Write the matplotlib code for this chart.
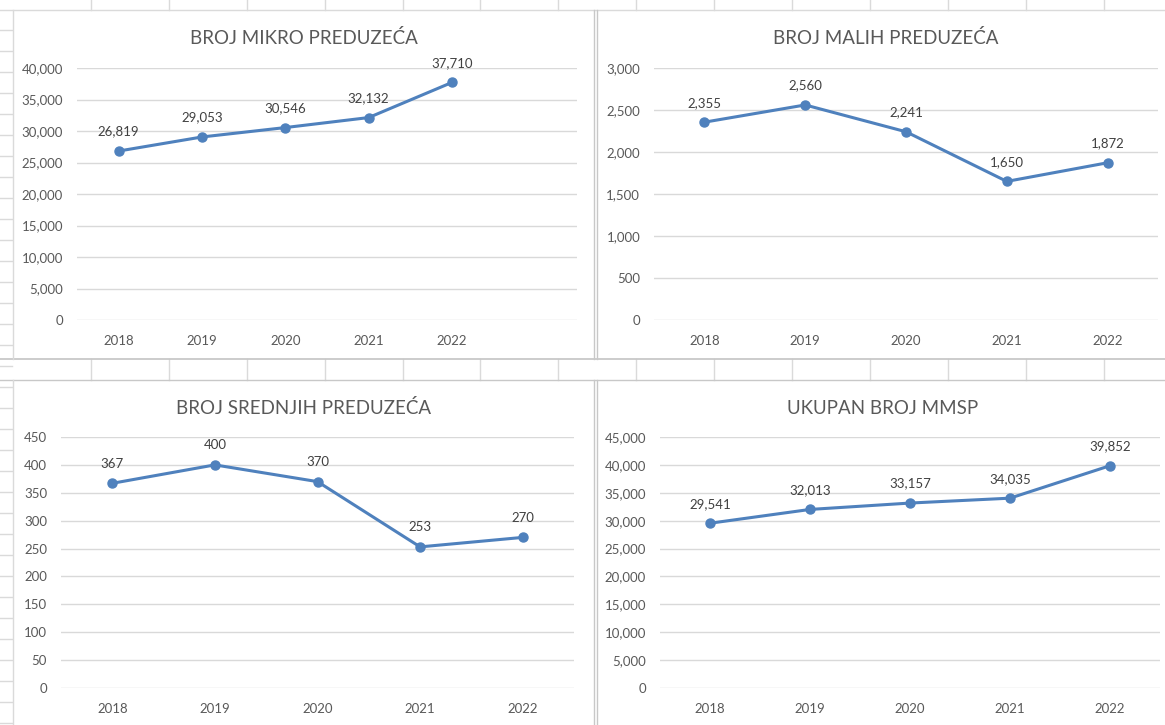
import matplotlib
matplotlib.use("Agg")
import matplotlib.pyplot as plt
from matplotlib.lines import Line2D
from matplotlib.ticker import FuncFormatter, MultipleLocator

plt.rcParams['font.family'] = ['Lato', 'DejaVu Sans']

years = ["2018", "2019", "2020", "2021", "2022"]
mikro = [26819, 29053, 30546, 32132, 37710]
mali = [2355, 2560, 2241, 1650, 1872]
srednji = [367, 400, 370, 253, 270]
ukupno = [29541, 32013, 33157, 34035, 39852]

titles = ["BROJ MIKRO PREDUZEĆA", "BROJ MALIH PREDUZEĆA",
          "BROJ SREDNJIH PREDUZEĆA", "UKUPAN BROJ MMSP"]

W, H = 1165, 725
fig = plt.figure(figsize=(W / 100, H / 100), dpi=100)
fig.patch.set_facecolor("white")

LINE = "#4F81BD"
TXT = "#595959"
GRID = "#D9D9D9"
SHEET = "#DADADA"


def px_axes(x0, y0, x1, y1):
    return fig.add_axes([x0 / W, 1 - y1 / H, (x1 - x0) / W, (y1 - y0) / H])


def fline(xs, ys, color=SHEET, lw=1.0):
    fig.add_artist(Line2D([x / W for x in xs], [1 - y / H for y in ys],
                          transform=fig.transFigure, color=color, lw=lw))


# spreadsheet background lines
cols = [91 + 77.9 * k for k in range(15)]
for cx in cols:
    fline([cx, cx], [0, 10])
    fline([cx, cx], [359, 380])
for ry in range(30, 725, 21):
    fline([0, 12], [ry, ry])
# strip separators
fline([0, W], [10, 10])
fline([0, W], [359, 359], color="#C8C8C8", lw=1.3)
fline([0, W], [380, 380], color="#C8C8C8", lw=1.0)
# panel borders
fline([13, 13], [10, 359])
fline([13, 13], [380, 725])
fline([594, 594], [10, 359], color="#C8C8C8")
fline([597, 597], [10, 359], color="#C8C8C8")
fline([594, 594], [380, 725], color="#C8C8C8")
fline([597, 597], [380, 725], color="#C8C8C8")

panels = [
    (mikro, titles[0], (77, 68, 577, 320), 40000, 5000, 6, 304, 38),
    (mali, titles[1], (654, 68, 1158, 320), 3000, 500, 5, 886, 38),
    (srednji, titles[2], (61, 437, 574, 688), 450, 50, 5, 304, 408),
    (ukupno, titles[3], (660, 437, 1160, 688), 45000, 5000, 5, 883, 408),
]

fmt = FuncFormatter(lambda v, p: f"{int(v):,}")

for data, title, rect, ymax, step, ncat, tx, ty in panels:
    ax = px_axes(*rect)
    xs = list(range(len(years)))
    ax.plot(xs, data, color=LINE, lw=2.2, marker="o", ms=6.5,
            solid_capstyle="round", zorder=3)
    for x, v in zip(xs, data):
        ax.annotate(f"{v:,}", (x, v), xytext=(0, 14), textcoords="offset points",
                    ha="center", va="center", fontsize=9.5, color="#404040")
    ax.set_xlim(-0.5, ncat - 0.5)
    ax.set_ylim(0, ymax)
    ax.yaxis.set_major_locator(MultipleLocator(step))
    ax.yaxis.set_major_formatter(fmt)
    ax.set_xticks(xs)
    ax.set_xticklabels(years)
    ax.tick_params(axis="both", length=0, labelsize=9.5, colors=TXT)
    ax.tick_params(axis="y", pad=10)
    ax.tick_params(axis="x", pad=11)
    ax.grid(axis="y", color=GRID, lw=1.0)
    ax.set_axisbelow(True)
    for s in ax.spines.values():
        s.set_visible(False)
    ax.set_facecolor("none")
    fig.text(tx / W, 1 - ty / H, title, ha="center", va="center",
             fontsize=13.5, color=TXT)

fig.savefig("out.png", dpi=100, facecolor="white")
